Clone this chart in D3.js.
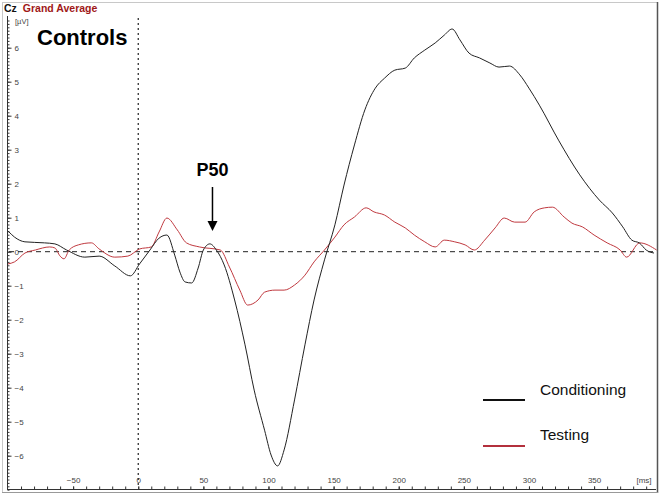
<!DOCTYPE html>
<html lang="en">
<head>
<meta charset="UTF-8">
<title>Cz Grand Average - Controls</title>
<script src="https://cdn.jsdelivr.net/npm/d3@7/dist/d3.min.js"></script>
<style>
  body { margin: 0; background: #fff; }
  svg text { font-family: "Liberation Sans", Arial, sans-serif; }
  .tick text { fill: #444; font-size: 8px; }
  .tick line { stroke: #333; }
</style>
</head>
<body>
<div id="container"></div>
<script>
// ---- data (time in ms, amplitude in microvolts) ----
var condTime = [-100, -95, -87, -72, -64, -55, -41, -30, -18, -6, 1, 9, 16, 22, 28, 32, 36, 41, 46, 50,
  55, 60, 66, 74, 82, 89, 97, 102, 107, 112, 120, 128, 135, 143, 151, 158, 166, 174, 182, 189,
  197, 205, 212, 220, 228, 235, 241, 247, 254, 262, 270, 277, 285, 293, 300, 308, 323, 339, 354, 364,
  372, 379, 385, 390, 396];
var condValue = [0.61, 0.43, 0.29, 0.26, 0.23, 0.05, -0.16, -0.13, -0.42, -0.71, -0.36, 0.05, 0.4, 0.49, -0.1, -0.6, -0.89, -0.92, -0.48, 0.05,
  0.23, 0.05, -0.39, -1.42, -2.74, -4.07, -5.25, -5.98, -6.3, -5.83, -4.36, -2.74, -1.42, -0.24, 0.79, 1.96, 3.14, 4.17, 4.81, 5.1,
  5.34, 5.4, 5.7, 5.93, 6.14, 6.37, 6.55, 6.23, 5.84, 5.7, 5.55, 5.43, 5.46, 5.2, 4.81, 4.31, 3.26, 2.26, 1.52, 1.14,
  0.73, 0.34, 0.25, 0.05, -0.04];

var testTime = [-100, -95, -87, -79, -68, -64, -60, -57, -53, -46, -36, -30, -18, -8, 1, 10, 16, 22, 30, 37,
  47, 63, 70, 78, 84, 92, 97, 105, 112, 120, 128, 135, 143, 151, 158, 166, 175, 181, 189, 197,
  205, 212, 220, 228, 235, 243, 251, 258, 266, 274, 281, 289, 297, 304, 312, 318, 327, 333, 341, 350,
  360, 370, 375, 385, 398];
var testValue = [-0.36, -0.3, -0.04, 0.05, 0.14, 0.11, -0.13, -0.21, 0.05, 0.2, 0.26, 0.08, -0.16, -0.13, 0.08, 0.14, 0.58, 0.99, 0.64, 0.26,
  0.14, 0.05, -0.45, -1.13, -1.57, -1.42, -1.19, -1.13, -1.13, -0.98, -0.69, -0.3, 0.05, 0.43, 0.79, 1.02, 1.29, 1.17, 1.08, 0.87,
  0.7, 0.49, 0.29, 0.14, 0.34, 0.29, 0.2, 0.05, 0.34, 0.7, 0.99, 0.87, 0.87, 1.17, 1.29, 1.31, 1.02, 0.84, 0.73, 0.49,
  0.26, 0.05, -0.16, 0.26, 0.05];

var yTicks = [-6, -5, -4, -3, -2, -1, 0, 1, 2, 3, 4, 5, 6];
var xTicks = [-50, 0, 50, 100, 150, 200, 250, 300, 350];
var seriesNames = ["Conditioning", "Testing"];
var seriesColors = ["#111111", "#b3303c"];

var width = 661, height = 496;
var svg = d3.select("#container").append("svg")
    .attr("width", width)
    .attr("height", height);

var x = d3.scaleLinear().domain([-100, 396]).range([8, 654]);
var y = d3.scaleLinear().domain([-7, 6.9]).range([489.7, 17.1]);

// frame
svg.append("rect").attr("x", 2.5).attr("y", 2.5).attr("width", 655).attr("height", 490)
    .attr("fill", "none").attr("stroke", "#c8c8c8");
svg.append("line").attr("x1", 657.5).attr("x2", 657.5).attr("y1", 2).attr("y2", 493)
    .attr("stroke", "#555").attr("stroke-width", 1.5);
svg.append("line").attr("x1", 2).attr("x2", 658).attr("y1", 492.5).attr("y2", 492.5)
    .attr("stroke", "#999");

// header
var header = svg.append("text").attr("x", 4).attr("y", 12)
    .style("font-size", "10.5px").style("font-weight", "bold");
header.append("tspan").attr("fill", "#111").text("Cz");
header.append("tspan").attr("fill", "#a01818").attr("dx", 6).text("Grand Average");

// axis lines
svg.append("line").attr("x1", 7.5).attr("x2", 7.5).attr("y1", 16).attr("y2", 489.5)
    .attr("stroke", "#333");
svg.append("line").attr("x1", 7).attr("x2", 656).attr("y1", 489.5).attr("y2", 489.5)
    .attr("stroke", "#333");

// y axis minor + major
var minorY = d3.range(-70, 69).map(function(d) { return d / 10; });
svg.append("g").attr("transform", "translate(7.5,0)")
    .call(d3.axisRight(y).tickValues(minorY).tickSize(2).tickFormat(""))
    .call(function(g) { g.select(".domain").remove(); });
svg.append("g").attr("transform", "translate(7.5,0)")
    .call(d3.axisRight(y).tickValues(yTicks).tickSize(4).tickPadding(3).tickFormat(d3.format("d")))
    .call(function(g) { g.select(".domain").remove(); });

svg.append("text").attr("x", 15).attr("y", 24).attr("fill", "#444")
    .style("font-size", "7.5px").text("[\u00b5V]");

// x axis minor + major
var minorX = d3.range(-90, 400, 10);
svg.append("g").attr("transform", "translate(0,489.5)")
    .call(d3.axisTop(x).tickValues(minorX).tickSize(3).tickFormat(""))
    .call(function(g) { g.select(".domain").remove(); });
svg.append("g").attr("transform", "translate(0,489.5)")
    .call(d3.axisTop(x).tickValues(xTicks).tickSize(3).tickPadding(4).tickFormat(d3.format("d")))
    .call(function(g) { g.select(".domain").remove(); });

svg.append("text").attr("x", 644).attr("y", 483).attr("text-anchor", "middle")
    .attr("fill", "#444").style("font-size", "8px").text("[ms]");

// reference lines
svg.append("line").attr("x1", x(0)).attr("x2", x(0)).attr("y1", 18).attr("y2", 488)
    .attr("stroke", "#222").attr("stroke-width", 1.2).attr("stroke-dasharray", "2,3");
svg.append("line").attr("x1", 9).attr("x2", 655).attr("y1", y(0)).attr("y2", y(0))
    .attr("stroke", "#222").attr("stroke-dasharray", "5,4");

// curves
var line = d3.line()
    .x(function(d) { return x(d[0]); })
    .y(function(d) { return y(d[1]); })
    .curve(d3.curveMonotoneX);

var testData = d3.zip(testTime, testValue);
var condData = d3.zip(condTime, condValue);

svg.append("path").datum(testData).attr("d", line)
    .attr("fill", "none").attr("stroke", "#c0393f").attr("stroke-width", 1);
svg.append("path").datum(condData).attr("d", line)
    .attr("fill", "none").attr("stroke", "#222").attr("stroke-width", 1);

// title
svg.append("text").attr("x", 37).attr("y", 45)
    .style("font-size", "22px").style("font-weight", "bold").attr("fill", "#000")
    .text("Controls");

// P50 annotation
svg.append("text").attr("x", x(57)).attr("y", 176).attr("text-anchor", "middle")
    .style("font-size", "18px").style("font-weight", "bold").text("P50");
svg.append("line").attr("x1", x(57)).attr("x2", x(57)).attr("y1", 187).attr("y2", 223)
    .attr("stroke", "#000").attr("stroke-width", 1.5);
svg.append("path")
    .attr("d", "M" + (x(57) - 5) + ",221 L" + (x(57) + 5) + ",221 L" + x(57) + ",231 Z")
    .attr("fill", "#000");

// legend
var legend = svg.append("g").selectAll("g").data(seriesNames).enter().append("g")
    .attr("transform", function(d, i) { return "translate(483," + (400 + i * 46) + ")"; });
legend.append("line").attr("x1", 0).attr("x2", 42).attr("y1", 0).attr("y2", 0)
    .attr("stroke", function(d, i) { return seriesColors[i]; }).attr("stroke-width", 2);
legend.append("text").attr("x", 57).attr("y", function(d, i) { return i === 0 ? -5 : -6; })
    .style("font-size", "15.5px").attr("fill", "#111")
    .text(function(d) { return d; });
</script>
</body>
</html>
